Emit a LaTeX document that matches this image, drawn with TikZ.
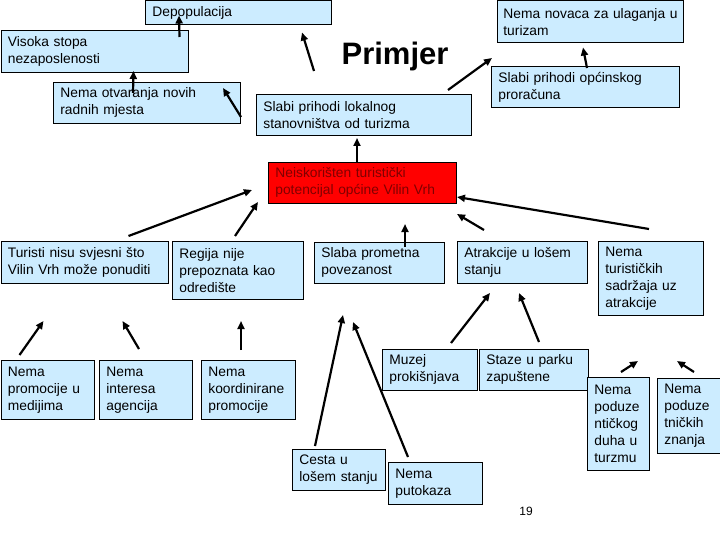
\documentclass[tikz,border=0pt]{standalone}
\usepackage{fontspec}
\setmainfont{Liberation Sans}
\usepackage{tikz}
\usetikzlibrary{arrows.meta,calc}
\definecolor{ink}{HTML}{000000}
\definecolor{sky}{HTML}{CCECFF}
\definecolor{alarm}{HTML}{FF0000}
\definecolor{maroon}{HTML}{800000}
\hyphenpenalty=10000
\exhyphenpenalty=10000

\begin{document}
\begin{tikzpicture}[x=1pt, y=-1pt, >={Triangle[length=8pt,width=7pt]},
  box/.style={draw=ink, fill=sky, line width=0.8pt, anchor=north west, inner xsep=7pt, inner ysep=0pt, align=left, font=\fontsize{13.8}{17}\selectfont},
  dim/.style 2 args={text width=#1pt, minimum height=#2pt},
  cause/.style={->, line width=2.2pt}]
  \useasboundingbox (0,0) rectangle (720,540);
  % top row
  \node[box,dim={172}{24}] (depop) at (145,0.5) {Depopulacija};
  \node[box,dim={174}{42},inner xsep=6pt] (novac) at (497,0.5) {\mbox{Nema novaca za ulaganja u}\\turizam};
  \node[box,dim={173}{42}] (visoka) at (0.5,30) {Visoka stopa\\nezaposlenosti};
  \node[font=\fontsize{31}{36}\selectfont\bfseries, anchor=base] (title) at (395,65) {Primjer};
  \node[box,dim={174}{41}] (opcin) at (491,66) {Slabi prihodi općinskog\\proračuna};
  \node[box,dim={173}{41}] (otvar) at (53,82) {Nema otvaranja novih\\radnih mjesta};
  \node[box,dim={201}{41}] (lokal) at (256,94) {Slabi prihodi lokalnog\\stanovništva od turizma};
  % core problem
  \node[box,dim={174}{41},fill=alarm,text=maroon] (neisk) at (268,162) {Neiskorišten turistički\\potencijal općine Vilin Vrh};
  % causes
  \node[box,dim={153}{42}] (turisti) at (0.5,241) {Turisti nisu svjesni što\\Vilin Vrh može ponuditi};
  \node[box,dim={117}{58}] (regija) at (172,241) {Regija nije\\prepoznata kao\\odredište};
  \node[box,dim={116}{41}] (promet) at (314,242) {Slaba prometna\\povezanost};
  \node[box,dim={116}{42}] (atrak) at (457,241) {Atrakcije u lošem\\stanju};
  \node[box,dim={91}{74}] (sadrz) at (598,241) {Nema\\turističkih\\sadržaja uz\\atrakcije};
  % sub-causes
  \node[box,dim={79}{59}] (promoc) at (0.5,360) {Nema\\promocije u\\medijima};
  \node[box,dim={79}{59}] (inter) at (99,360) {Nema\\interesa\\agencija};
  \node[box,dim={80}{59}] (koord) at (201,360) {Nema\\koordinirane\\promocije};
  \node[box,dim={81}{41}] (muzej) at (382,349) {Muzej\\prokišnjava};
  \node[box,dim={95}{41}] (staze) at (479,349) {Staze u parku\\zapuštene};
  \node[box,dim={48}{93}] (duha) at (587,377) {Nema\\poduze\\ntičkog\\duha u\\turzmu};
  \node[box,dim={49}{75}] (znanj) at (657,378) {Nema\\poduze\\tničkih\\znanja};
  \node[box,dim={79}{41}] (cesta) at (292,449) {Cesta u\\lošem stanju};
  \node[box,dim={80}{42}] (putok) at (388,462) {Nema\\putokaza};
  \node[font=\fontsize{12}{14}\selectfont] (page) at (526,511) {19};
  % arrows
  \draw[cause] ($(visoka.north west)+(179,7)$) -- ($(depop.north west)+(34,15)$);
  \draw[cause] ($(otvar.north west)+(80,11)$) -- ($(visoka.north west)+(133,41)$);
  \draw[cause] ($(lokal.north west)+(-15,23)$) -- ($(otvar.north west)+(170,6)$);
  \draw[cause] ($(lokal.north west)+(58,-23)$) -- ($(depop.north west)+(157,32)$);
  \draw[cause] ($(lokal.north west)+(192,-4)$) -- ($(opcin.north west)+(1,-8)$);
  \draw[cause] ($(opcin.north west)+(96,2)$) -- ($(novac.north west)+(86,47)$);
  \draw[cause] ($(neisk.north west)+(89,0)$) -- ($(lokal.north west)+(101,44)$);
  \draw[cause] ($(turisti.north west)+(128,-5)$) -- ($(neisk.north west)+(-16,28)$);
  \draw[cause] ($(regija.north west)+(63,-5)$) -- ($(neisk.north west)+(-10,40)$);
  \draw[cause] ($(promet.north west)+(91,5)$) -- ($(neisk.north west)+(137,62)$);
  \draw[cause] ($(atrak.north west)+(27,-11)$) -- ($(neisk.north west)+(189,52)$);
  \draw[cause] ($(sadrz.north west)+(51,-12)$) -- ($(neisk.north west)+(189,35)$);
  \draw[cause] ($(promoc.north west)+(19,-5)$) -- ($(turisti.north west)+(43,80)$);
  \draw[cause] ($(inter.north west)+(40,-11)$) -- ($(turisti.north west)+(122,80)$);
  \draw[cause] ($(koord.north west)+(40,-10)$) -- ($(regija.north west)+(69,80)$);
  \draw[cause] ($(cesta.north west)+(23,-3)$) -- ($(promet.north west)+(29,73)$);
  \draw[cause] ($(putok.north west)+(20,-5)$) -- ($(promet.north west)+(39,80)$);
  \draw[cause] ($(muzej.north west)+(69,-6)$) -- ($(atrak.north west)+(33,52)$);
  \draw[cause] ($(staze.north west)+(60,-7)$) -- ($(atrak.north west)+(62,52)$);
  \draw[cause] ($(duha.north west)+(34,-5)$) -- ($(sadrz.north west)+(40,120)$);
  \draw[cause] ($(znanj.north west)+(37,-6)$) -- ($(sadrz.north west)+(79,120)$);
\end{tikzpicture}
\end{document}
